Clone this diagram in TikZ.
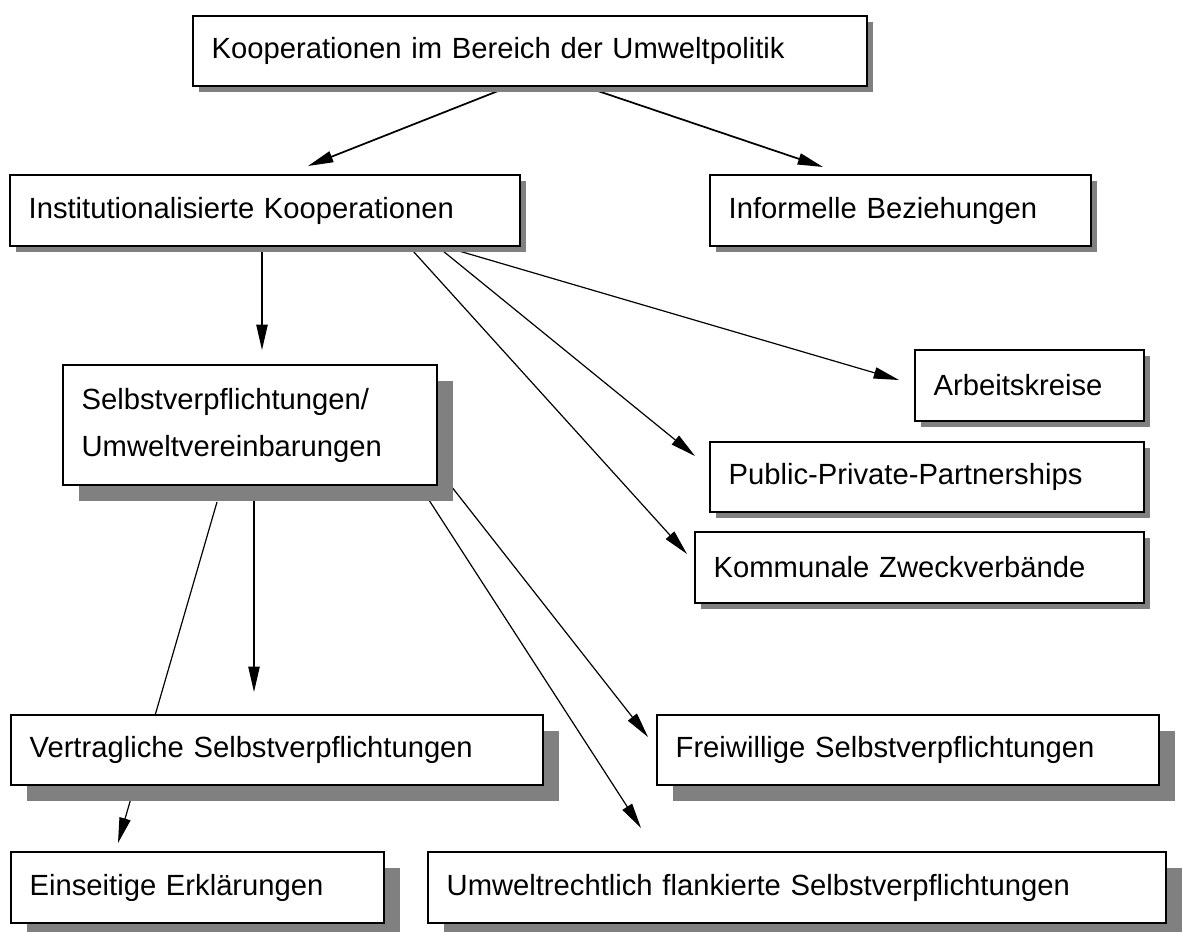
\documentclass[tikz,border=0pt]{standalone}
\usepackage{fontspec}
\setmainfont{Liberation Sans}
\usetikzlibrary{arrows.meta}
\pgfdeclarelayer{bg}
\pgfdeclarelayer{conn}
\pgfdeclarelayer{shad}
\pgfsetlayers{bg,conn,shad,main}
\definecolor{shadowgray}{RGB}{128,128,128}
\tikzset{
  box/.style={draw, line width=1.3pt, fill=white, rectangle, anchor=north west,
    inner xsep=14pt, inner ysep=0pt, outer sep=0pt, align=left,
    font=\fontsize{21.9pt}{26pt}\selectfont},
  conn/.style={line width=0.9pt, -{Triangle[length=19pt,width=8.5pt]}},
  connthick/.style={conn, line width=1.3pt},
  plainconn/.style={line width=0.9pt},
}
\newcommand\mybox[6]{\node[box, text width={(#4-#2)*0.75pt-28pt}, minimum height={(#5-#3)*0.75pt}] (#1) at (#2,#3) {#6};}
\newcommand\myshadow[2]{\fill[shadowgray] ([shift={(#2,#2)}]#1.south west) rectangle ([shift={(#2,#2)}]#1.north east);}
\begin{document}
\begin{tikzpicture}[x=0.75pt, y=-0.75pt]
\useasboundingbox (0,0) rectangle (1182,932);
\begin{pgfonlayer}{bg}
\fill[white] (0,0) rectangle (1182,932);
\end{pgfonlayer}
% boxes
\mybox{top}{193}{16}{867}{86}{Kooperationen im Bereich der Umweltpolitik}
\mybox{inst}{10}{175}{520}{246}{Institutionalisierte Kooperationen}
\mybox{info}{710}{175}{1091}{246}{Informelle Beziehungen}
\mybox{selbst}{63}{365}{437}{485}{Selbstverpflichtungen/\\[9.3pt]Umweltvereinbarungen}
\mybox{arbeits}{915}{350}{1144}{421}{Arbeitskreise}
\mybox{ppp}{710}{442}{1144}{512}{Public-Private-Partnerships}
\mybox{komm}{695}{532}{1144}{603}{Kommunale Zweckverbände}
\mybox{vertr}{11}{715}{543}{785}{Vertragliche Selbstverpflichtungen}
\mybox{frei}{657}{715}{1159}{785}{Freiwillige Selbstverpflichtungen}
\mybox{eins}{11}{852}{384}{923}{Einseitige Erklärungen}
\mybox{umw}{428}{852}{1166}{923}{Umweltrechtlich flankierte Selbstverpflichtungen}
% shadows
\begin{pgfonlayer}{shad}
\myshadow{top}{6}
\myshadow{inst}{6}
\myshadow{info}{6}
\myshadow{arbeits}{6}
\myshadow{ppp}{6}
\myshadow{komm}{6}
\myshadow{selbst}{16}
\myshadow{vertr}{16}
\myshadow{frei}{16}
\myshadow{eins}{16}
\myshadow{umw}{16}
\end{pgfonlayer}
% connectors
\begin{pgfonlayer}{conn}
\draw[connthick] ([shift={(305,5)}]top.south west) -- ([shift={(298,-9)}]inst.north west);
\draw[connthick] ([shift={(402,4)}]top.south west) -- ([shift={(113,-8)}]info.north west);
\draw[conn] ([shift={(252,5)}]inst.south west) -- ([shift={(199,-15)}]selbst.north west);
\draw[conn] ([shift={(449,5)}]inst.south west) -- ([shift={(-16,30)}]arbeits.north west);
\draw[conn] ([shift={(433,5)}]inst.south west) -- ([shift={(-15,14)}]ppp.north west);
\draw[conn] ([shift={(403,5)}]inst.south west) -- ([shift={(-8,22)}]komm.north west);
\draw[conn] ([shift={(154,17)}]selbst.south west) -- ([shift={(107,-9)}]eins.north west);
\draw[conn] ([shift={(191,13)}]selbst.south west) -- ([shift={(243,-23)}]vertr.north west);
\draw[conn] ([shift={(7,-8)}]selbst.south east) -- ([shift={(-9,22)}]frei.north west);
\draw[conn] ([shift={(-10,12)}]selbst.south east) -- ([shift={(213,-24)}]umw.north west);
\end{pgfonlayer}
\end{tikzpicture}
\end{document}
